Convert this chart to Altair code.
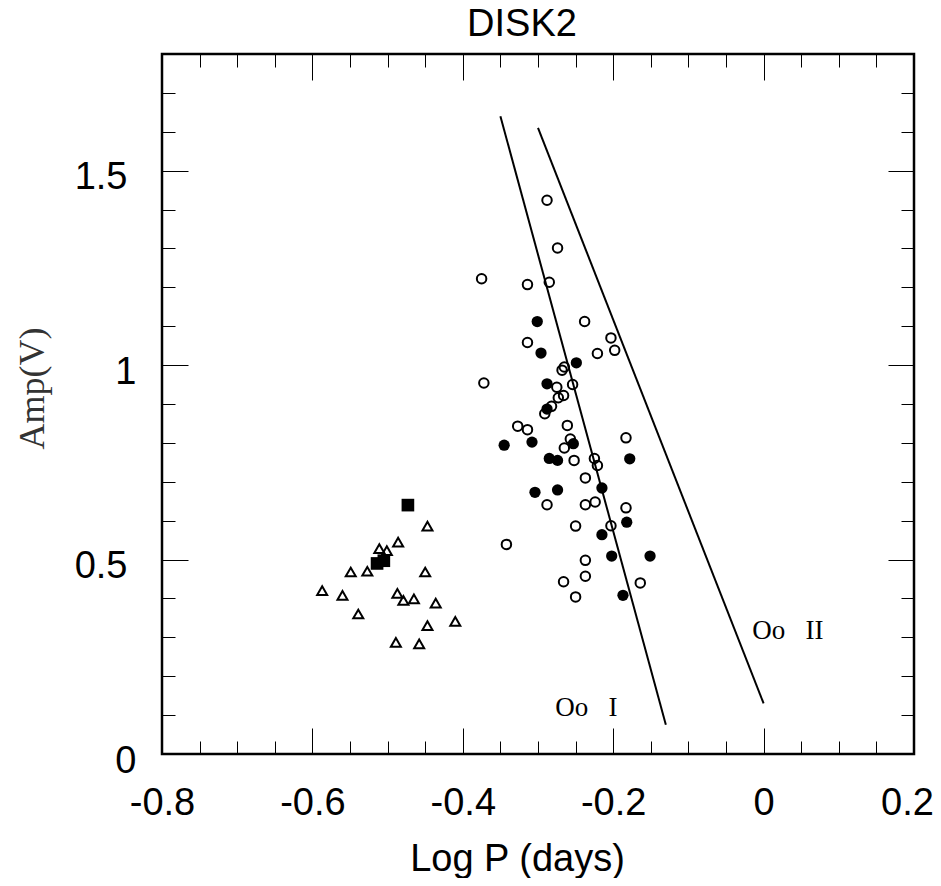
import altair as alt
import pandas as pd

# ---- data ----
tri_logp = [-0.447, -0.486, -0.511, -0.501, -0.549, -0.527, -0.450, -0.587, -0.560,
            -0.487, -0.479, -0.465, -0.436, -0.539, -0.447, -0.410, -0.489, -0.458]
tri_amp = [0.586, 0.545, 0.528, 0.523, 0.468, 0.470, 0.468, 0.420, 0.408,
           0.413, 0.395, 0.399, 0.388, 0.360, 0.330, 0.341, 0.287, 0.283]

sq_logp = [-0.473, -0.514, -0.505]
sq_amp = [0.640, 0.490, 0.497]

fc_logp = [-0.301, -0.296, -0.249, -0.288, -0.288, -0.345, -0.308, -0.253, -0.285, -0.274,
           -0.178, -0.215, -0.304, -0.274, -0.182, -0.215, -0.202, -0.151, -0.187]
fc_amp = [1.112, 1.031, 1.006, 0.952, 0.887, 0.794, 0.802, 0.798, 0.760, 0.755,
          0.759, 0.684, 0.673, 0.679, 0.596, 0.564, 0.509, 0.509, 0.408]

oc_logp = [-0.288, -0.274, -0.375, -0.314, -0.285, -0.238, -0.314, -0.221, -0.203, -0.198,
           -0.268, -0.265, -0.372, -0.275, -0.254, -0.273, -0.266, -0.282, -0.291, -0.327,
           -0.314, -0.261, -0.257, -0.265, -0.183, -0.252, -0.225, -0.221, -0.237, -0.288,
           -0.237, -0.224, -0.183, -0.203, -0.250, -0.342, -0.237, -0.237, -0.266, -0.164,
           -0.250]
oc_amp = [1.424, 1.301, 1.222, 1.207, 1.213, 1.112, 1.058, 1.030, 1.070, 1.038,
          0.987, 0.995, 0.954, 0.943, 0.950, 0.916, 0.922, 0.894, 0.875, 0.843,
          0.834, 0.845, 0.810, 0.787, 0.813, 0.755, 0.760, 0.742, 0.710, 0.641,
          0.641, 0.648, 0.633, 0.587, 0.586, 0.539, 0.498, 0.457, 0.443, 0.440,
          0.404]

oo1_logp = [-0.35, -0.13]
oo1_amp = [1.64, 0.075]
oo2_logp = [-0.30, 0.0]
oo2_amp = [1.61, 0.13]

label_text = ["Oo\u00a0\u00a0\u00a0I", "Oo\u00a0\u00a0\u00a0II"]
label_logp = [-0.277, -0.015]
label_amp = [0.099, 0.297]

title_text = ["DISK2"]

x_labels = [-0.8, -0.6, -0.4, -0.2, 0, 0.2]
x_major = [-0.6, -0.4, -0.2, 0]
x_minor = [-0.75, -0.7, -0.65, -0.55, -0.5, -0.45, -0.35, -0.3, -0.25,
           -0.15, -0.1, -0.05, 0.05, 0.1, 0.15]
y_labels = [0, 0.5, 1, 1.5]
y_major = [0.5, 1, 1.5]
y_minor = [0.1, 0.2, 0.3, 0.4, 0.6, 0.7, 0.8, 0.9, 1.1, 1.2, 1.3, 1.4, 1.6, 1.7]

# ---- tables ----
tri = pd.DataFrame({"logp": tri_logp, "amp": tri_amp})
sq = pd.DataFrame({"logp": sq_logp, "amp": sq_amp})
fc = pd.DataFrame({"logp": fc_logp, "amp": fc_amp})
oc = pd.DataFrame({"logp": oc_logp, "amp": oc_amp})
l1 = pd.DataFrame({"logp": oo1_logp, "amp": oo1_amp})
l2 = pd.DataFrame({"logp": oo2_logp, "amp": oo2_amp})
lab = pd.DataFrame({"logp": label_logp, "amp": label_amp, "t": label_text})
ttl = pd.DataFrame({"t": title_text})

W, H = 752, 700
xs = alt.Scale(domain=[-0.8, 0.2], nice=False, zero=False)
ys = alt.Scale(domain=[0, 1.8], nice=False, zero=False)


def tick_axis(orient, values, size, offset):
    return alt.Axis(orient=orient, values=values, tickSize=size, offset=offset,
                    labels=False, domain=False, grid=False, title="",
                    ticks=True, tickColor="black", tickWidth=1)


x_lab_axis = alt.Axis(orient="bottom", values=x_labels, labelExpr="'' + datum.value",
                      ticks=False, tickSize=0, domain=False, grid=False,
                      labelFont="Liberation Sans", labelFontSize=38, labelColor="black",
                      labelPadding=60, labelBaseline="alphabetic", labelFlush=False,
                      labelOverlap=False,
                      labelOffset={"condition": {"test": "datum.value == 0.2", "value": -7},
                                   "value": 0},
                      title="Log P (days)", titleFont="Liberation Sans", titleFontSize=38,
                      titleFontWeight="normal", titleColor="black",
                      titleX=355, titleY=116, titleAlign="center", titleBaseline="alphabetic")
y_lab_axis = alt.Axis(orient="left", values=y_labels, labelExpr="'' + datum.value",
                      ticks=False, tickSize=0, domain=False, grid=False,
                      labelFont="Liberation Sans", labelFontSize=38, labelColor="black",
                      labelPadding={"condition": {"test": "datum.value == 0 || datum.value == 1",
                                                  "value": 26},
                                    "value": 35},
                      labelOffset=7, labelOverlap=False,
                      title="Amp(V)", titleFont="Liberation Serif", titleFontSize=36,
                      titleFontWeight="normal", titleColor="#333",
                      titleX=-130, titleY=334, titleAngle=270,
                      titleAlign="center", titleBaseline="middle")

lines1 = alt.Chart(l1).mark_line(color="black", strokeWidth=2).encode(
    x=alt.X("logp:Q", scale=xs, axis=tick_axis("bottom", x_minor, 13, -H)),
    y=alt.Y("amp:Q", scale=ys, axis=tick_axis("left", y_minor, 13, -W)),
)
lines2 = alt.Chart(l2).mark_line(color="black", strokeWidth=2).encode(
    x=alt.X("logp:Q", scale=xs, axis=None),
    y=alt.Y("amp:Q", scale=ys, axis=None),
)
tris = alt.Chart(tri).mark_point(shape="triangle-up", size=100, filled=False,
                                 color="black", strokeWidth=2, opacity=1).encode(
    x=alt.X("logp:Q", scale=xs, axis=x_lab_axis),
    y=alt.Y("amp:Q", scale=ys, axis=y_lab_axis),
)
opens = alt.Chart(oc).mark_point(shape="circle", size=90, filled=False,
                                 color="black", strokeWidth=2, opacity=1).encode(
    x=alt.X("logp:Q", scale=xs, axis=tick_axis("top", x_major, 26, -H)),
    y=alt.Y("amp:Q", scale=ys, axis=tick_axis("right", y_major, 26, -W)),
)
fills = alt.Chart(fc).mark_point(shape="circle", size=127, filled=True,
                                 color="black", opacity=1).encode(
    x=alt.X("logp:Q", scale=xs, axis=tick_axis("top", x_minor, 13, -H)),
    y=alt.Y("amp:Q", scale=ys, axis=tick_axis("right", y_minor, 13, -W)),
)
squares = alt.Chart(sq).mark_point(shape="square", size=160, filled=True,
                                   color="black", opacity=1).encode(
    x=alt.X("logp:Q", scale=xs, axis=tick_axis("bottom", x_major, 26, -H)),
    y=alt.Y("amp:Q", scale=ys, axis=tick_axis("left", y_major, 26, -W)),
)
texts = alt.Chart(lab).mark_text(font="Liberation Serif", fontSize=27, align="left",
                                 baseline="alphabetic", color="black").encode(
    x=alt.X("logp:Q", scale=xs, axis=None),
    y=alt.Y("amp:Q", scale=ys, axis=None),
    text="t:N",
)
title_mark = alt.Chart(ttl).mark_text(font="Liberation Sans", fontSize=38, align="center",
                                      baseline="alphabetic", color="black").encode(
    x=alt.value(360),
    y=alt.value(-18),
    text="t:N",
)

chart = alt.layer(lines1, lines2, tris, opens, fills, squares, texts, title_mark).resolve_axis(
    x="independent", y="independent"
).properties(
    width=W, height=H,
    autosize=alt.AutoSizeParams(type="none"),
    padding={"left": 154, "top": 46, "right": 19, "bottom": 124},
).configure_view(stroke="black", strokeWidth=2.5)

chart.save("out.html", embed_options={"renderer": "svg", "actions": False})
